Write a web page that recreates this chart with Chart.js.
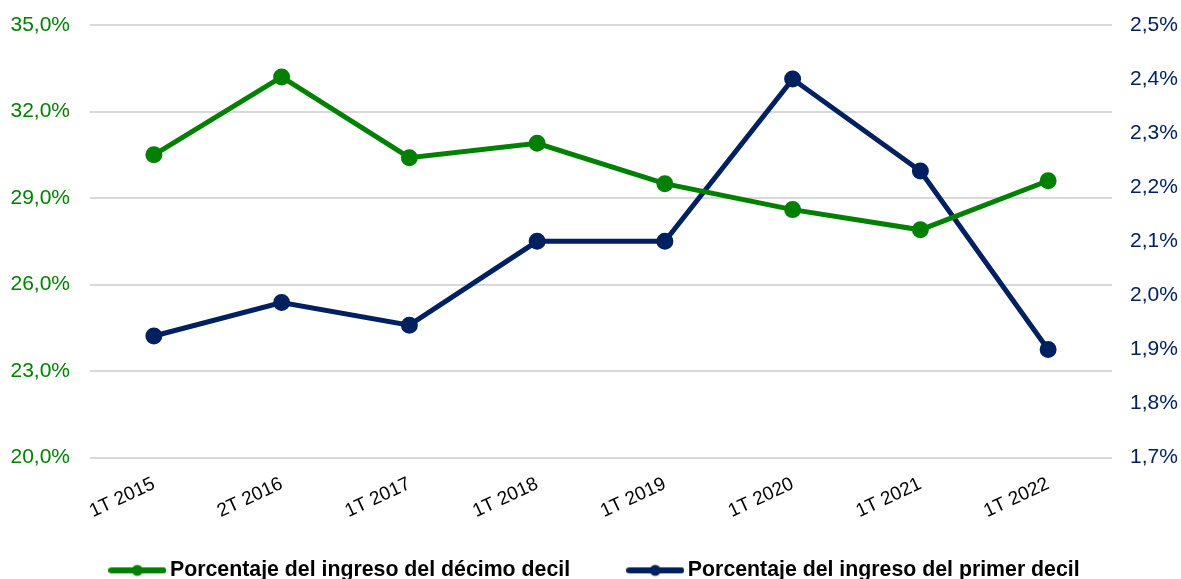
<!DOCTYPE html>
<html>
<head>
<meta charset="utf-8">
<script src="https://cdn.jsdelivr.net/npm/chart.js@4.4.0/dist/chart.umd.min.js"></script>
<style>
html,body{margin:0;padding:0;background:#fff;}
#wrap{width:1181px;height:579px;position:relative;}
</style>
</head>
<body>
<div id="wrap"><canvas id="c" width="1181" height="579"></canvas></div>
<script>
const categories = ["1T 2015","2T 2016","1T 2017","1T 2018","1T 2019","1T 2020","1T 2021","1T 2022"];
const decimoDecil = [30.5, 33.2, 30.4, 30.9, 29.5, 28.6, 27.9, 29.6];
const primerDecil = [1.925, 1.987, 1.945, 2.1, 2.1, 2.4, 2.23, 1.9];
const seriesNames = ["Porcentaje del ingreso del décimo decil","Porcentaje del ingreso del primer decil"];
const leftTicks = [20, 23, 26, 29, 32, 35];
const rightTicks = [1.7, 1.8, 1.9, 2.0, 2.1, 2.2, 2.3, 2.4, 2.5];

const GREEN = '#008000';
const NAVY = '#002060';

function legendSymbol(color){
  const cv = document.createElement('canvas');
  cv.width = 58; cv.height = 14;
  const g = cv.getContext('2d');
  g.strokeStyle = color; g.lineWidth = 6; g.lineCap = 'round';
  g.beginPath(); g.moveTo(3,7); g.lineTo(55,7); g.stroke();
  g.fillStyle = color; g.beginPath(); g.arc(29,7,5.5,0,Math.PI*2); g.fill();
  return cv;
}
const symbols = [legendSymbol(GREEN), legendSymbol(NAVY)];
const fmt = v => v.toFixed(1).replace('.', ',') + '%';
const gapAfter = ['\u00A0'.repeat(10), ''];
const noVertPad = (axis) => { axis.paddingTop = 0; axis.paddingBottom = 0; };

Chart.defaults.font.family = "'Liberation Sans', Arial, Helvetica, sans-serif";

new Chart(document.getElementById('c'), {
  type: 'line',
  data: {
    labels: categories,
    datasets: [
      {label: seriesNames[0], data: decimoDecil, yAxisID: 'y', borderColor: GREEN, backgroundColor: GREEN,
       borderWidth: 5, pointRadius: 6, pointHoverRadius: 6, tension: 0},
      {label: seriesNames[1], data: primerDecil, yAxisID: 'y1', borderColor: NAVY, backgroundColor: NAVY,
       borderWidth: 5, pointRadius: 6, pointHoverRadius: 6, tension: 0}
    ]
  },
  options: {
    responsive: false,
    animation: false,
    layout: {padding: {top: 25, left: 0, right: -14, bottom: -12}},
    plugins: {
      tooltip: {enabled: false},
      legend: {
        position: 'bottom',
        labels: {
          usePointStyle: true,
          pointStyleWidth: 44,
          padding: 4,
          color: '#000',
          font: {size: 21.3, weight: 'bold'},
          generateLabels: (chart) => chart.data.datasets.map((ds, i) => ({
            text: ds.label + gapAfter[i], datasetIndex: i, pointStyle: symbols[i],
            fillStyle: ds.borderColor, strokeStyle: ds.borderColor, lineWidth: 0, fontColor: '#000', hidden: false
          }))
        }
      }
    },
    scales: {
      x: {
        offset: true,
        grid: {display: false, drawTicks: false},
        border: {display: false},
        ticks: {color: '#000', font: {size: 19}, minRotation: 25, maxRotation: 25, padding: 15},
        afterFit: (axis) => { axis.height = 98; }
      },
      y: {
        position: 'left',
        min: 20, max: 35,
        afterBuildTicks: (axis) => { axis.ticks = leftTicks.map(v => ({value: v})); },
        grid: {color: '#d9d9d9', lineWidth: 2, drawTicks: false},
        border: {display: false},
        ticks: {color: GREEN, font: {size: 21}, padding: 20, callback: v => fmt(v)},
        afterFit: (axis) => { axis.width = 90; noVertPad(axis); }
      },
      y1: {
        position: 'right',
        min: 1.7, max: 2.5,
        afterBuildTicks: (axis) => { axis.ticks = rightTicks.map(v => ({value: v})); },
        grid: {display: false, drawTicks: false},
        border: {display: false},
        ticks: {color: NAVY, font: {size: 21}, padding: 18, callback: v => fmt(v)},
        afterFit: (axis) => { axis.width = 83; noVertPad(axis); }
      }
    }
  }
});
</script>
</body>
</html>
